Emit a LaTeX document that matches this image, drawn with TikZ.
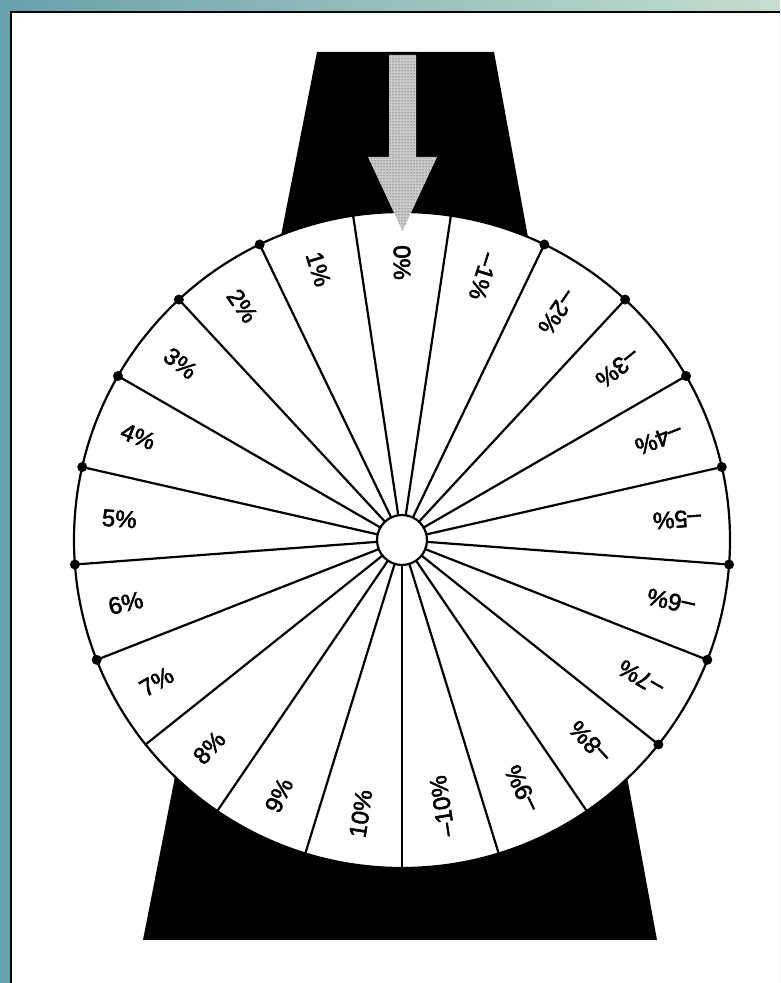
\documentclass[tikz,border=0pt]{standalone}
\usepackage{fontspec}
\setmainfont{Liberation Sans}
\usetikzlibrary{patterns}
\definecolor{tealA}{RGB}{104,160,172}
\definecolor{tealB}{RGB}{196,222,206}
\begin{document}
\begin{tikzpicture}[x=1pt,y=1pt,
  spoke/.style={line width=2.2pt},
  rimline/.style={line width=2.2pt},
  pin/.style={circle,fill=black,inner sep=0pt,minimum size=10pt},
  lbl/.style={anchor=west,inner sep=0pt,font=\fontsize{24}{28}\selectfont\addfontfeature{FakeBold=2.2}}]
\pgfmathsetmacro{\al}{360/21}
\useasboundingbox (0,0) rectangle (780,983);
% outer teal strips and frame
\fill[left color=tealA,right color=tealB] (0,0) rectangle (780,983);
\fill[white] (11,0) rectangle (780,971);
\draw[line width=2.5pt] (11,0) -- (11,971) -- (780,971);
% black trapezoid stand
\fill[black] (317,931) -- (494,931) -- (657,43) -- (143,43) -- cycle;
\begin{scope}[shift={(402,443)}]
  % wheel
  \fill[white] (0,0) circle (328);
  \foreach \i in {0,...,20}{
    \draw[spoke] (90+\al/2+\i*\al:25) -- (90+\al/2+\i*\al:328);
  }
  \draw[rimline] (0,0) circle (328);
  \filldraw[fill=white,line width=2.2pt] (0,0) circle (25);
  % pins
  \foreach \k in {1,...,6}{
    \node[pin] (pl\k) at (90+\k*\al+\al/2:328) {};
  }
  \foreach \k in {1,...,7}{
    \node[pin] (pr\k) at (90-\k*\al-\al/2:328) {};
  }
  % labels
  \node[lbl,rotate=270] (l0) at (90:295) {0\%};
  \foreach \k in {1,...,10}{
    \node[lbl,rotate=270+\k*\al] (lp\k) at (90+\k*\al:301) {\k\%};
    \node[lbl,rotate=270-\k*\al] (ln\k) at (90-\k*\al:300) {–\k\%};
  }
\end{scope}
% pointer arrow
\fill[gray!40] (389,928) -- (416,928) -- (416,826) -- (437,826) -- (402.5,752) -- (368,826) -- (389,826) -- cycle;
\fill[pattern=dots,pattern color=black!85] (389,928) -- (416,928) -- (416,826) -- (437,826) -- (402.5,752) -- (368,826) -- (389,826) -- cycle;
\end{tikzpicture}
\end{document}
